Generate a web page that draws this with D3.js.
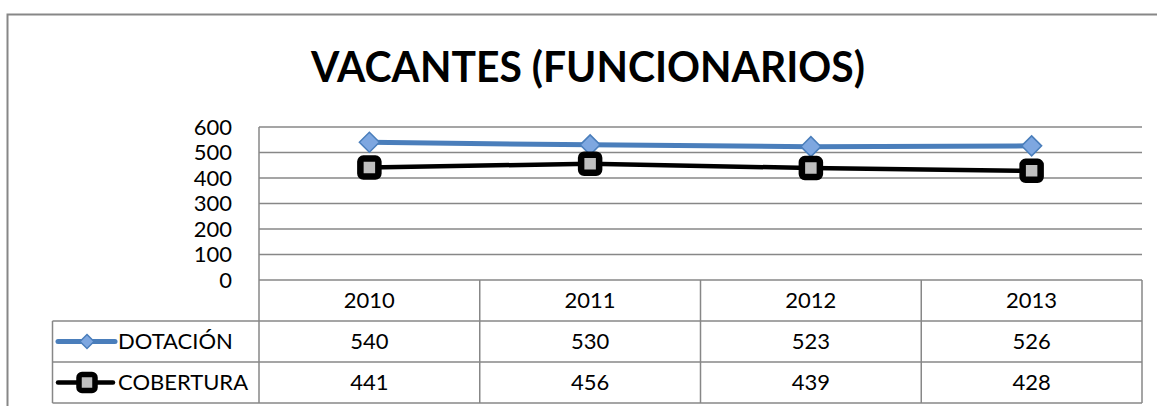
<!DOCTYPE html>
<html>
<head>
<meta charset="utf-8">
<script src="https://cdn.jsdelivr.net/npm/d3@7"></script>
<style>
  body { margin: 0; background: #fff; }
  svg text { font-family: Lato, "Open Sans", sans-serif; fill: #000; }
</style>
</head>
<body>
<div id="chart"></div>
<script>
// chart data
var years = ["2010", "2011", "2012", "2013"];
var dotacion = [540, 530, 523, 526];
var cobertura = [441, 456, 439, 428];
var yTicks = [0, 100, 200, 300, 400, 500, 600];
var seriesNames = ["DOTACIÓN", "COBERTURA"];

var width = 1157, height = 406;
var gridColor = "#878787";

var svg = d3.select("#chart").append("svg")
    .attr("width", width)
    .attr("height", height);

// outer chart frame (runs off the right and bottom edges)
svg.append("rect")
    .attr("x", 7.5).attr("y", 14.5)
    .attr("width", 1300).attr("height", 500)
    .attr("fill", "none")
    .attr("stroke", gridColor)
    .attr("stroke-width", 2);

// title
svg.append("text")
    .attr("x", 588).attr("y", 82)
    .attr("text-anchor", "middle")
    .attr("font-size", 42)
    .attr("font-weight", "bold")
    .attr("textLength", 554)
    .attr("lengthAdjust", "spacingAndGlyphs")
    .text("VACANTES (FUNCIONARIOS)");

// plot area
var plotLeft = 259, plotRight = 1142, plotTop = 127, plotBottom = 280;
var x = d3.scaleBand().domain(years).range([plotLeft, plotRight]);
var y = d3.scaleLinear().domain([0, 600]).range([plotBottom, plotTop]);

// gridlines
svg.append("g").selectAll("line").data(yTicks).enter()
  .append("line")
    .attr("x1", plotLeft).attr("x2", plotRight)
    .attr("y1", function(d) { return y(d); })
    .attr("y2", function(d) { return y(d); })
    .attr("stroke", gridColor)
    .attr("stroke-width", 1.5);

// y axis labels
svg.append("g").selectAll("text").data(yTicks).enter()
  .append("text")
    .attr("x", 232)
    .attr("y", function(d) { return y(d); })
    .attr("dy", "0.36em")
    .attr("text-anchor", "end")
    .attr("font-size", 22)
    .text(function(d) { return d; });

// data table under the plot
var rowEdges = [280, 321, 362, 403];
var tableLeft = 52.5;
var colEdges = [plotLeft].concat(years.map(function(d) { return x(d) + x.bandwidth(); }));

var table = svg.append("g")
    .attr("stroke", gridColor)
    .attr("stroke-width", 1.5);

// horizontal rules
rowEdges.slice(1).forEach(function(r) {
  table.append("line")
      .attr("x1", tableLeft).attr("x2", plotRight)
      .attr("y1", r).attr("y2", r);
});
// vertical rules
table.append("line")
    .attr("x1", tableLeft).attr("x2", tableLeft)
    .attr("y1", rowEdges[1]).attr("y2", rowEdges[3]);
table.append("line")
    .attr("x1", plotLeft).attr("x2", plotLeft)
    .attr("y1", plotTop).attr("y2", rowEdges[3]);
colEdges.slice(1).forEach(function(c) {
  table.append("line")
      .attr("x1", c).attr("x2", c)
      .attr("y1", rowEdges[0]).attr("y2", rowEdges[3]);
});

function rowMid(i) { return (rowEdges[i] + rowEdges[i + 1]) / 2; }

var cellFont = 22;
var rows = [years, dotacion, cobertura];
rows.forEach(function(vals, i) {
  svg.append("g").selectAll("text").data(vals).enter()
    .append("text")
      .attr("x", function(d, j) { return x(years[j]) + x.bandwidth() / 2; })
      .attr("y", rowMid(i))
      .attr("dy", "0.36em")
      .attr("text-anchor", "middle")
      .attr("font-size", cellFont)
      .text(function(d) { return d; });
});

// series styles
var blue = "#4a7ebb", blueFill = "#7ea7e0";

function diamond(g, cx, cy, r) {
  g.append("path")
      .attr("d", "M" + cx + "," + (cy - r) + "L" + (cx + r) + "," + cy +
                 "L" + cx + "," + (cy + r) + "L" + (cx - r) + "," + cy + "Z")
      .attr("fill", blueFill)
      .attr("stroke", blue)
      .attr("stroke-width", 1.5);
}
function square(g, cx, cy, s, sw) {
  g.append("rect")
      .attr("x", cx - s / 2).attr("y", cy - s / 2)
      .attr("width", s).attr("height", s)
      .attr("rx", 3)
      .attr("fill", "#bfbfbf")
      .attr("stroke", "#000")
      .attr("stroke-width", sw);
}

var line = d3.line()
    .x(function(d, i) { return x(years[i]) + x.bandwidth() / 2; })
    .y(function(d) { return y(d); });

var marks = svg.append("g");

marks.append("path").datum(dotacion)
    .attr("d", line)
    .attr("fill", "none")
    .attr("stroke", blue)
    .attr("stroke-width", 5);

marks.append("path").datum(cobertura)
    .attr("d", line)
    .attr("fill", "none")
    .attr("stroke", "#000")
    .attr("stroke-width", 4.5);

dotacion.forEach(function(d, i) {
  diamond(marks, x(years[i]) + x.bandwidth() / 2, y(d), 10);
});
cobertura.forEach(function(d, i) {
  square(marks, x(years[i]) + x.bandwidth() / 2, y(d), 18, 6.5);
});

// legend keys inside the table
var lg = svg.append("g");
lg.append("line")
    .attr("x1", 58).attr("x2", 115)
    .attr("y1", rowMid(1)).attr("y2", rowMid(1))
    .attr("stroke", blue).attr("stroke-width", 5)
    .attr("stroke-linecap", "round");
diamond(lg, 87, rowMid(1), 7);
lg.append("line")
    .attr("x1", 58).attr("x2", 113)
    .attr("y1", rowMid(2)).attr("y2", rowMid(2))
    .attr("stroke", "#000").attr("stroke-width", 4.5)
    .attr("stroke-linecap", "round");
square(lg, 87, rowMid(2), 16, 5.5);

seriesNames.forEach(function(name, i) {
  lg.append("text")
      .attr("x", 118)
      .attr("y", rowMid(i + 1))
      .attr("dy", "0.36em")
      .attr("font-size", cellFont)
      .text(name);
});
</script>
</body>
</html>
